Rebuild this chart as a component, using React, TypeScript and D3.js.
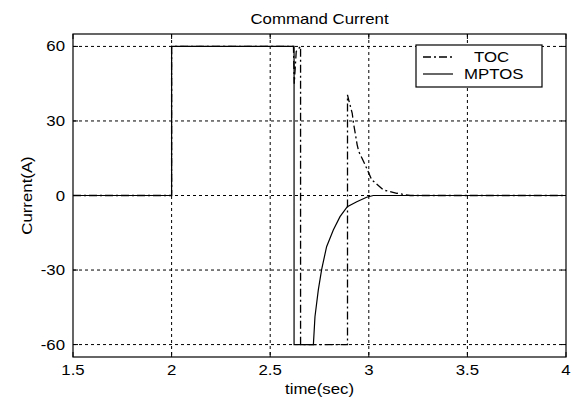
import React from "react";
import * as d3 from "d3";

const mptosTime = [1.5, 2, 2, 2.621, 2.621, 2.719, 2.727, 2.744, 2.761, 2.786, 2.82, 2.854, 2.891, 2.939, 2.989, 3.023, 4];
const mptosCurrent = [0, 0, 60, 60, -60, -60, -48.8, -38, -29.7, -20.6, -13.9, -8.5, -4.5, -2.5, -0.7, 0, 0];

const tocTime = [1.5, 2, 2, 2.618, 2.622, 2.632, 2.654, 2.654, 2.892, 2.892, 2.898, 2.916, 2.921, 2.941, 2.949, 2.974, 3.0, 3.015, 3.074, 3.142, 3.21, 4];
const tocCurrent = [0, 0, 60, 60, 45, 58, 60, -60, -60, 40.5, 38.5, 33.1, 29.8, 20.4, 17.7, 13.6, 9.0, 6.3, 2.2, 0.9, 0, 0];

const xTicks = [1.5, 2, 2.5, 3, 3.5, 4];
const xTickLabels = ["1.5", "2", "2.5", "3", "3.5", "4"];
const yTicks = [-60, -30, 0, 30, 60];
const yTickLabels = ["-60", "-30", "0", "30", "60"];
const seriesNames = ["TOC", "MPTOS"];

const W = 574, H = 401;
const L = 73, R = 566, T = 34, B = 357;
const FONT = "'Liberation Sans', Arial, Helvetica, sans-serif";
const FS = 14;
const SX = 1.2;

function Txt({ x, y, anchor = "start", rotate = 0, children }: any) {
  return (
    <text
      transform={`translate(${x},${y}) rotate(${rotate}) scale(${SX},1)`}
      textAnchor={anchor}
      fontFamily={FONT}
      fontSize={FS}
      fill="#000"
    >
      {children}
    </text>
  );
}

export default function App() {
  const x = d3.scaleLinear().domain([1.5, 4]).range([L, R]);
  const y = d3.scaleLinear().domain([-65, 65]).range([B, T]);

  const line = d3
    .line<[number, number]>()
    .x((d) => x(d[0]))
    .y((d) => y(d[1]));

  const mptos = mptosTime.map((t, i) => [t, mptosCurrent[i]] as [number, number]);
  const toc = tocTime.map((t, i) => [t, tocCurrent[i]] as [number, number]);

  const tick = 5;

  return (
    <svg
      width={W}
      height={H}
      style={{ position: "fixed", left: 0, top: 0, background: "#fff" }}
    >
      <rect x={0} y={0} width={W} height={H} fill="#fff" />
      {xTicks.slice(1, -1).map((v) => (
        <line key={"gx" + v} x1={x(v)} x2={x(v)} y1={T} y2={B} stroke="#000" strokeWidth={1} strokeDasharray="3,3" />
      ))}
      {yTicks.map((v) => (
        <line key={"gy" + v} x1={L} x2={R} y1={y(v)} y2={y(v)} stroke="#000" strokeWidth={1} strokeDasharray="3,3" />
      ))}
      <path d={line(mptos) || ""} fill="none" stroke="#000" strokeWidth={1.2} />
      <path d={line(toc) || ""} fill="none" stroke="#000" strokeWidth={1.3} strokeDasharray="8,3,2,3" />
      <rect x={L} y={T} width={R - L} height={B - T} fill="none" stroke="#000" strokeWidth={1.2} />
      {xTicks.map((v) => (
        <g key={"tx" + v}>
          <line x1={x(v)} x2={x(v)} y1={B} y2={B - tick} stroke="#000" />
          <line x1={x(v)} x2={x(v)} y1={T} y2={T + tick} stroke="#000" />
        </g>
      ))}
      {yTicks.map((v) => (
        <g key={"ty" + v}>
          <line x1={L} x2={L + tick} y1={y(v)} y2={y(v)} stroke="#000" />
          <line x1={R} x2={R - tick} y1={y(v)} y2={y(v)} stroke="#000" />
        </g>
      ))}
      {xTicks.map((v, i) => (
        <Txt key={"lx" + v} x={x(v)} y={375} anchor="middle">{xTickLabels[i]}</Txt>
      ))}
      {yTicks.map((v, i) => (
        <Txt key={"ly" + v} x={65} y={y(v) + 5} anchor="end">{yTickLabels[i]}</Txt>
      ))}
      <Txt x={(L + R) / 2} y={24} anchor="middle">Command Current</Txt>
      <Txt x={(L + R) / 2} y={394} anchor="middle">time(sec)</Txt>
      <Txt x={32} y={(T + B) / 2} anchor="middle" rotate={-90}>Current(A)</Txt>
      <rect x={416} y={45} width={126} height={42} fill="#fff" stroke="#000" strokeWidth={1.2} />
      <line x1={423} x2={453} y1={57} y2={57} stroke="#000" strokeWidth={1.3} strokeDasharray="8,3,2,3" />
      <line x1={423} x2={453} y1={74} y2={74} stroke="#000" strokeWidth={1.2} />
      <Txt x={474} y={62}>{seriesNames[0]}</Txt>
      <Txt x={464} y={79}>{seriesNames[1]}</Txt>
    </svg>
  );
}
